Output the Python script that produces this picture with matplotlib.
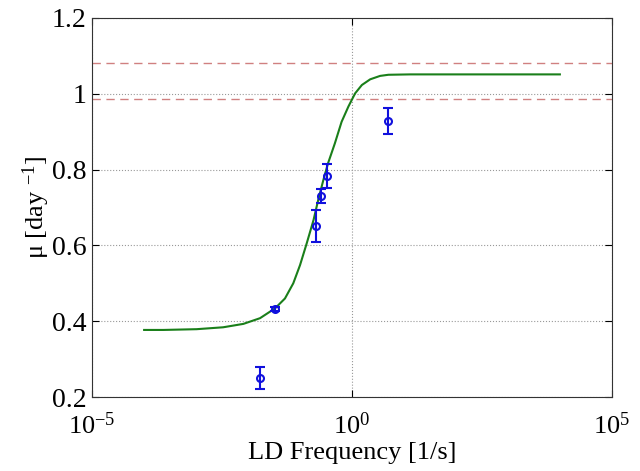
import numpy as np
import matplotlib
matplotlib.use('Agg')
import matplotlib.pyplot as plt
from matplotlib.ticker import LogFormatterMathtext, FormatStrFormatter, NullLocator

plt.rcParams['font.family'] = ['Liberation Serif', 'DejaVu Serif']
plt.rcParams['mathtext.fontset'] = 'custom'
plt.rcParams['mathtext.rm'] = 'Liberation Serif'
plt.rcParams['mathtext.it'] = 'Liberation Serif:italic'

# measured data
freq = [0.017, 0.033, 0.20, 0.25, 0.33, 4.9]
mu = [0.250, 0.433, 0.651, 0.730, 0.783, 0.928]
mu_err = [0.030, 0.005, 0.043, 0.018, 0.031, 0.034]

# fitted curve, log10 of frequency
fit_logf = [-4.00, -3.63, -2.99, -2.48, -2.09, -1.77, -1.48, -1.29, -1.13,
            -1.00, -0.87, -0.74, -0.65, -0.55, -0.46, -0.33, -0.20, -0.07,
            0.06, 0.19, 0.35, 0.54, 0.70, 1.12, 4.0]
fit_mu = [0.377, 0.377, 0.379, 0.384, 0.393, 0.408, 0.434, 0.460, 0.500,
          0.548, 0.606, 0.667, 0.720, 0.773, 0.817, 0.869, 0.926, 0.966,
          1.001, 1.023, 1.038, 1.047, 1.050, 1.051, 1.051]

# reference levels
ref_levels = [1.082, 0.985]

fig = plt.figure(figsize=(6.4, 4.71), dpi=100)
ax = fig.add_axes([0.144, 0.157, 0.812, 0.805])

for lv in ref_levels:
    ax.axhline(lv, color='#d08080', ls=(0, (6, 4)), lw=1.0)

ax.plot(10 ** np.array(fit_logf), fit_mu, color='#1a7f1a', lw=1.5)
ax.errorbar(freq, mu, yerr=mu_err, fmt='o', color='#1010dd', mfc='none',
            ms=5, mew=1.5, elinewidth=1.5, capsize=3.5, capthick=1.5)

ax.set_xscale('log')
ax.set_xlim(1e-5, 1e5)
ax.set_ylim(0.2, 1.2)
ax.set_xticks([1e-5, 1e0, 1e5])
ax.xaxis.set_major_formatter(LogFormatterMathtext())
ax.xaxis.set_minor_locator(NullLocator())
ax.set_yticks([0.2, 0.4, 0.6, 0.8, 1.0, 1.2])
ax.yaxis.set_major_formatter(FormatStrFormatter('%g'))

ax.grid(True, ls=':', color='#999999', lw=0.8)
ax.tick_params(direction='in', top=True, right=True, labelsize=19, length=5)
ax.tick_params(axis='x', pad=11)
ax.tick_params(axis='y', labelsize=20, pad=4)
for s in ax.spines.values():
    s.set_color('#333333')
    s.set_linewidth(0.8)

ax.set_xlabel('LD Frequency [1/s]', fontsize=19, labelpad=2)
ax.set_ylabel(r'μ [day $^{-1}$]', fontsize=19, labelpad=0)

fig.savefig('out.png', dpi=100)
